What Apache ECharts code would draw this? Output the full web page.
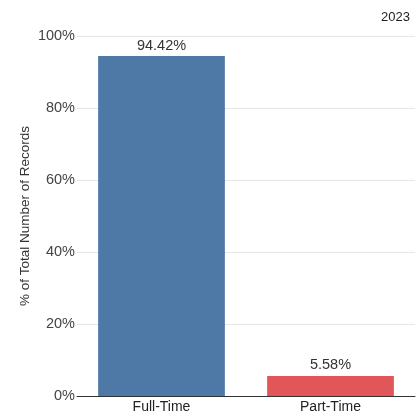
<!DOCTYPE html>
<html><head><meta charset="utf-8">
<script src="https://cdn.jsdelivr.net/npm/echarts@6/dist/echarts.min.js"></script>
<style>html,body{margin:0;padding:0;background:#fff}#c{width:418px;height:417px}</style>
</head><body><div id="c"></div>
<script>
const categories = ['Full-Time', 'Part-Time'];
const values = [94.42, 5.58];
const colors = ['#4e79a7', '#e15759'];
const yTicks = [0, 20, 40, 60, 80, 100];
const yearLabel = '2023';
const yAxisTitle = '% of Total Number of Records';

const chart = echarts.init(document.getElementById('c'));
chart.setOption({
  animation: false,
  textStyle: { fontFamily: 'Liberation Sans, Arial, sans-serif' },
  title: {
    text: yearLabel, right: 3, top: 6,
    textStyle: { fontSize: 13, fontWeight: 'normal', color: '#222' }
  },
  grid: { left: 77, right: 3, top: 36, bottom: 21, containLabel: false },
  xAxis: {
    type: 'category', data: categories,
    axisLine: { lineStyle: { color: '#333', width: 1 } },
    axisTick: { show: false },
    axisLabel: { color: '#222', fontSize: 14, margin: 4 }
  },
  yAxis: {
    type: 'value', min: yTicks[0], max: yTicks[yTicks.length - 1], interval: 20,
    name: yAxisTitle, nameLocation: 'middle', nameGap: 45, nameMoveOverlap: false,
    nameTextStyle: { color: '#333', fontSize: 13.5 },
    axisLine: { show: false }, axisTick: { show: false },
    axisLabel: { color: '#444', fontSize: 14.5, margin: 2, formatter: v => v + '%' },
    splitLine: { lineStyle: { color: '#e6e6e6' } }
  },
  series: [{
    type: 'bar', barWidth: '75%',
    data: values.map((v, i) => ({ value: v, itemStyle: { color: colors[i] } })),
    label: {
      show: true, position: 'top', distance: 3, color: '#333', fontSize: 14.5,
      formatter: p => p.value.toFixed(2) + '%'
    }
  }]
});
</script></body></html>
